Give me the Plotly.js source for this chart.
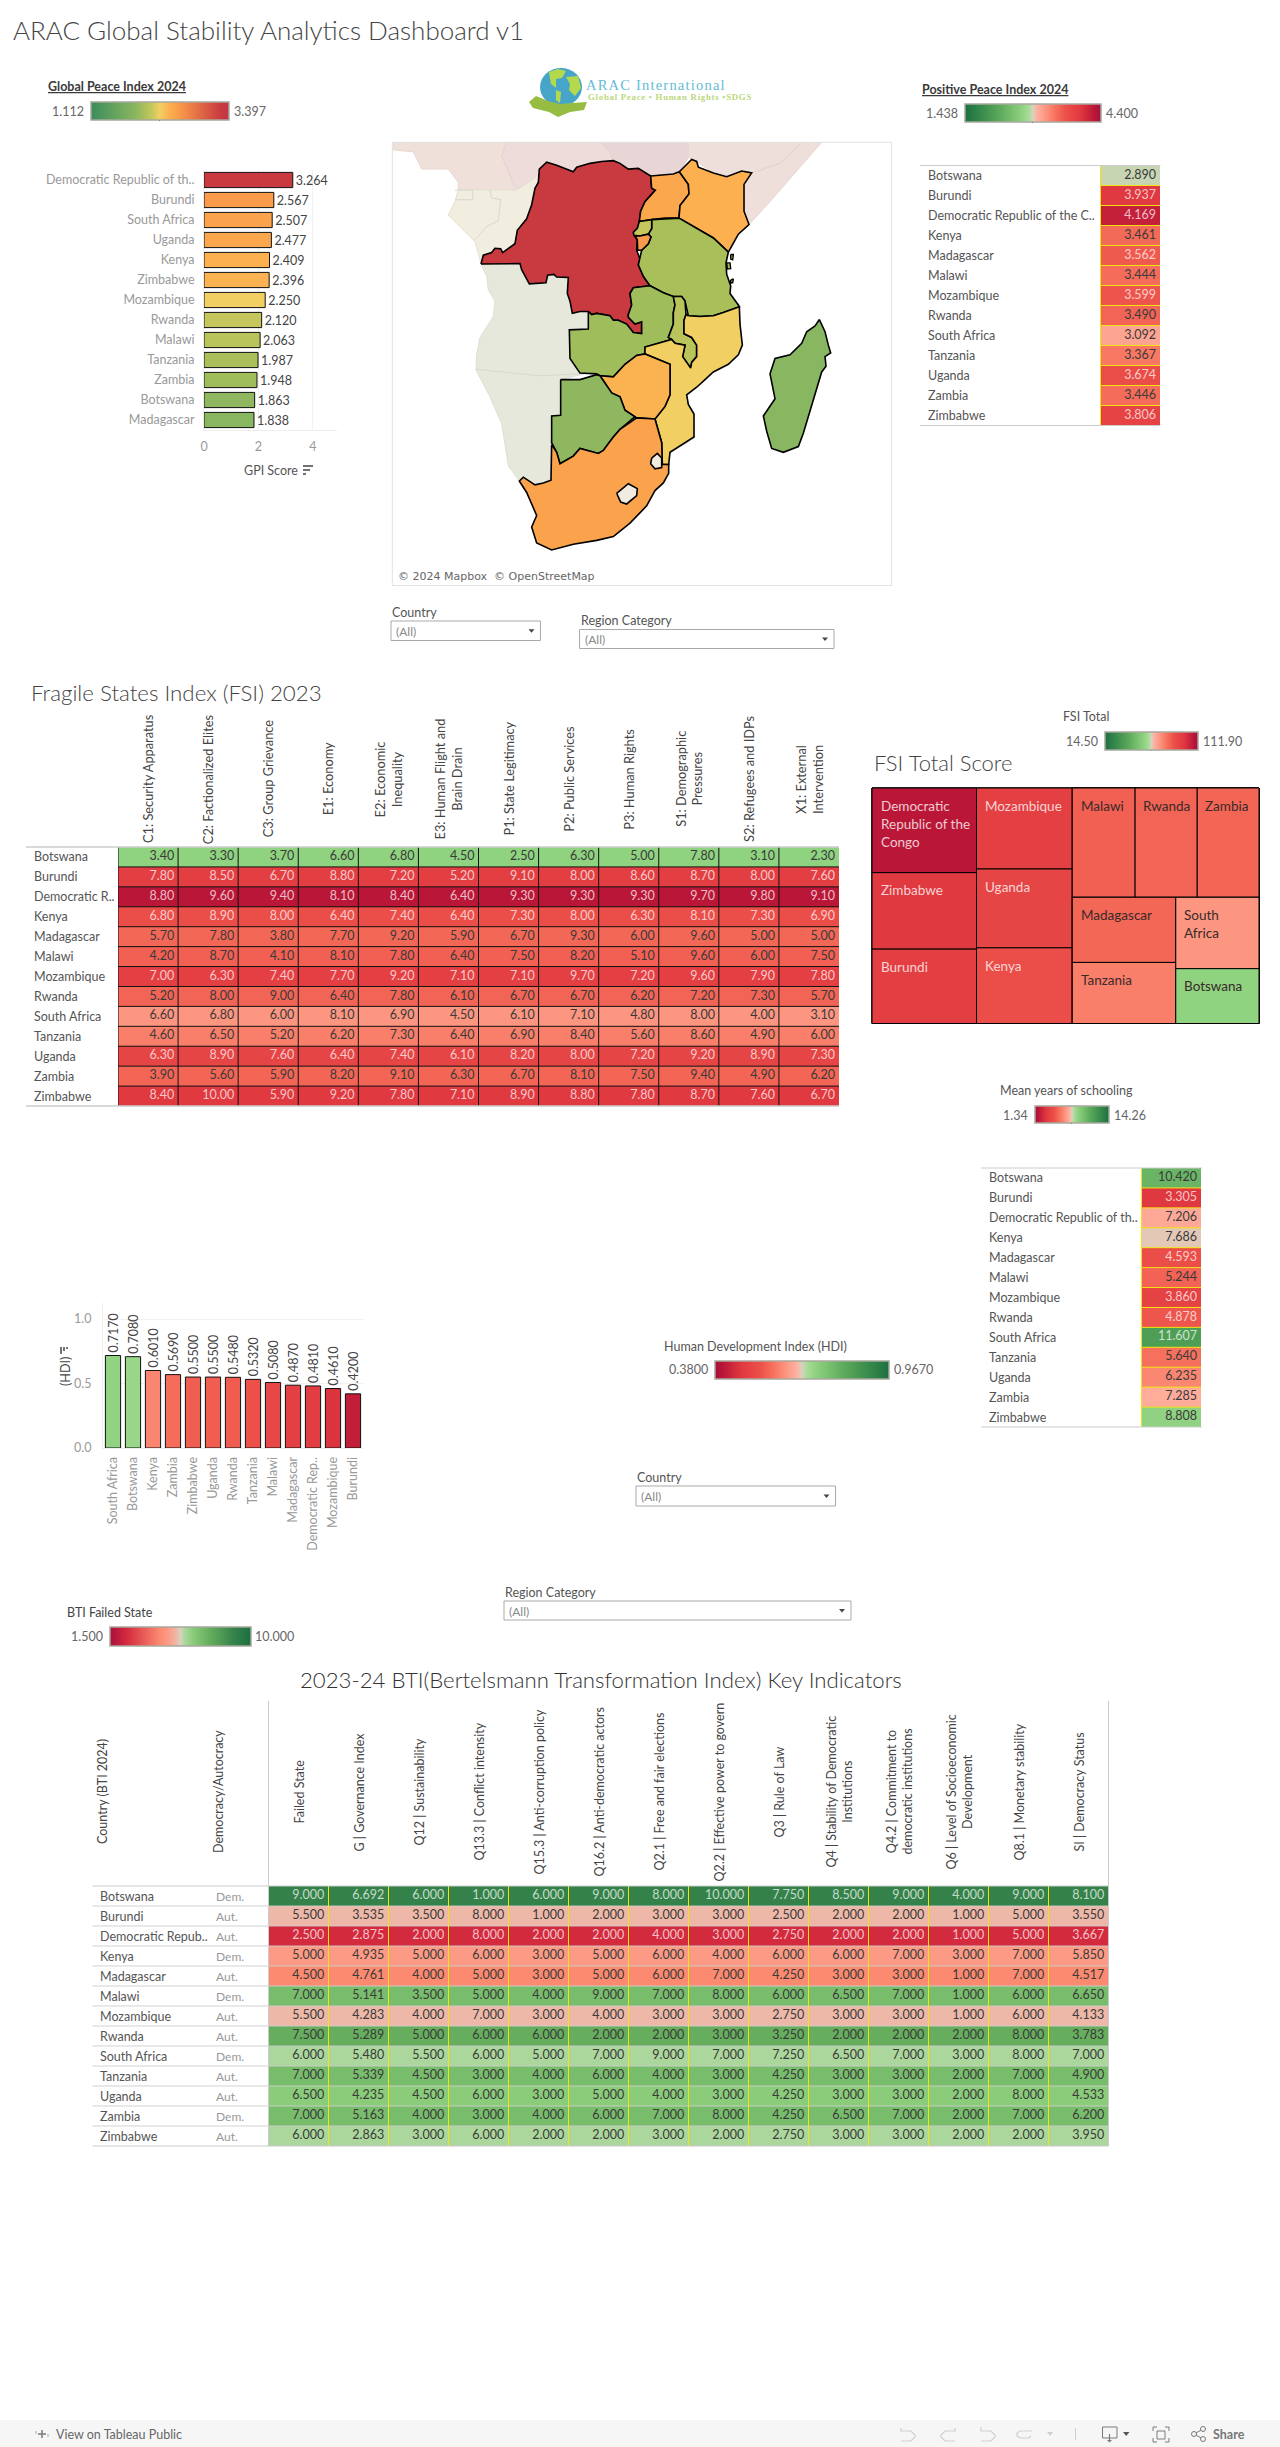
<!DOCTYPE html>
<html><head><meta charset="utf-8">
<script src="https://cdn.plot.ly/plotly-3.0.1.min.js"></script>
<style>html,body{margin:0;padding:0;background:#fff}#chart{width:1280px;height:2447px}</style>
</head><body><div id="chart"></div>
<script>
const W=1280,H=2447;
const FONT='Lato, "Noto Sans", sans-serif';
const LIGHT='"Lato Light", Lato, "Noto Sans", sans-serif';

// ---- data ----
const countries=['Botswana','Burundi','Democratic Republic of the Congo','Kenya','Madagascar','Malawi','Mozambique','Rwanda','South Africa','Tanzania','Uganda','Zambia','Zimbabwe'];
const gpiCountries=['Democratic Republic of th..','Burundi','South Africa','Uganda','Kenya','Zimbabwe','Mozambique','Rwanda','Malawi','Tanzania','Zambia','Botswana','Madagascar'];
const gpiValues=[3.264,2.567,2.507,2.477,2.409,2.396,2.250,2.120,2.063,1.987,1.948,1.863,1.838];
const ppiLabels=['Botswana','Burundi','Democratic Republic of the C..','Kenya','Madagascar','Malawi','Mozambique','Rwanda','South Africa','Tanzania','Uganda','Zambia','Zimbabwe'];
const ppiValues=[2.890,3.937,4.169,3.461,3.562,3.444,3.599,3.490,3.092,3.367,3.674,3.446,3.806];
const fsiLabels=['Botswana','Burundi','Democratic R..','Kenya','Madagascar','Malawi','Mozambique','Rwanda','South Africa','Tanzania','Uganda','Zambia','Zimbabwe'];
const fsiHeaders=['C1: Security Apparatus','C2: Factionalized Elites','C3: Group Grievance','E1: Economy','E2: Economic<br>Inequality','E3: Human Flight and<br>Brain Drain','P1: State Legitimacy','P2: Public Services','P3: Human Rights','S1: Demographic<br>Pressures','S2: Refugees and IDPs','X1: External<br>Intervention'];
const fsiRows=[
[3.40,3.30,3.70,6.60,6.80,4.50,2.50,6.30,5.00,7.80,3.10,2.30],
[7.80,8.50,6.70,8.80,7.20,5.20,9.10,8.00,8.60,8.70,8.00,7.60],
[8.80,9.60,9.40,8.10,8.40,6.40,9.30,9.30,9.30,9.70,9.80,9.10],
[6.80,8.90,8.00,6.40,7.40,6.40,7.30,8.00,6.30,8.10,7.30,6.90],
[5.70,7.80,3.80,7.70,9.20,5.90,6.70,9.30,6.00,9.60,5.00,5.00],
[4.20,8.70,4.10,8.10,7.80,6.40,7.50,8.20,5.10,9.60,6.00,7.50],
[7.00,6.30,7.40,7.70,9.20,7.10,7.10,9.70,7.20,9.60,7.90,7.80],
[5.20,8.00,9.00,6.40,7.80,6.10,6.70,6.70,6.20,7.20,7.30,5.70],
[6.60,6.80,6.00,8.10,6.90,4.50,6.10,7.10,4.80,8.00,4.00,3.10],
[4.60,6.50,5.20,6.20,7.30,6.40,6.90,8.40,5.60,8.60,4.90,6.00],
[6.30,8.90,7.60,6.40,7.40,6.10,8.20,8.00,7.20,9.20,8.90,7.30],
[3.90,5.60,5.90,8.20,9.10,6.30,6.70,8.10,7.50,9.40,4.90,6.20],
[8.40,10.00,5.90,9.20,7.80,7.10,8.90,8.80,7.80,8.70,7.60,6.70]];
const fsiLight=[0,1,1,1,0,0,1,0,0,0,1,0,1];
const ppiLight=[0,1,1,0,1,0,1,0,0,0,1,0,1];
const schoolLabels=['Botswana','Burundi','Democratic Republic of th..','Kenya','Madagascar','Malawi','Mozambique','Rwanda','South Africa','Tanzania','Uganda','Zambia','Zimbabwe'];
const schoolValues=[10.420,3.305,7.206,7.686,4.593,5.244,3.860,4.878,11.607,5.640,6.235,7.285,8.808];
const schoolLight=[0,1,0,0,1,0,1,1,1,0,0,0,0];
const hdiCountries=['South Africa','Botswana','Kenya','Zambia','Zimbabwe','Uganda','Rwanda','Tanzania','Malawi','Madagascar','Democratic Rep..','Mozambique','Burundi'];
const hdiValues=[0.7170,0.7080,0.6010,0.5690,0.5500,0.5500,0.5480,0.5320,0.5080,0.4870,0.4810,0.4610,0.4200];
const btiLabels=['Botswana','Burundi','Democratic Repub..','Kenya','Madagascar','Malawi','Mozambique','Rwanda','South Africa','Tanzania','Uganda','Zambia','Zimbabwe'];
const btiRegime=['Dem.','Aut.','Aut.','Dem.','Aut.','Dem.','Aut.','Aut.','Dem.','Aut.','Aut.','Dem.','Aut.'];
const btiHeaders=['Failed State','G | Governance Index','Q12 | Sustainability','Q13.3 | Conflict intensity','Q15.3 | Anti-corruption policy','Q16.2 | Anti-democratic actors','Q2.1 | Free and fair elections','Q2.2 | Effective power to govern','Q3 | Rule of Law','Q4 | Stability of Democratic<br>Institutions','Q4.2 | Commitment to<br>democratic institutions','Q6 | Level of Socioeconomic<br>Development','Q8.1 | Monetary stability','SI | Democracy Status'];
const btiRows=[
[9,6.692,6,1,6,9,8,10,7.75,8.5,9,4,9,8.1],
[5.5,3.535,3.5,8,1,2,3,3,2.5,2,2,1,5,3.55],
[2.5,2.875,2,8,2,2,4,3,2.75,2,2,1,5,3.667],
[5,4.935,5,6,3,5,6,4,6,6,7,3,7,5.85],
[4.5,4.761,4,5,3,5,6,7,4.25,3,3,1,7,4.517],
[7,5.141,3.5,5,4,9,7,8,6,6.5,7,1,6,6.65],
[5.5,4.283,4,7,3,4,3,3,2.75,3,3,1,6,4.133],
[7.5,5.289,5,6,6,2,2,3,3.25,2,2,2,8,3.783],
[6,5.48,5.5,6,5,7,9,7,7.25,6.5,7,3,8,7],
[7,5.339,4.5,3,4,6,4,3,4.25,3,3,2,7,4.9],
[6.5,4.235,4.5,6,3,5,4,3,4.25,3,3,2,8,4.533],
[7,5.163,4,3,4,6,7,8,4.25,6.5,7,2,7,6.2],
[6,2.863,3,6,2,2,3,2,2.75,3,3,2,2,3.95]];
const btiLight=[1,0,1,0,0,0,0,0,0,0,0,0,0];

// map outlines, in the projected plane of the reference map
const mapDRC=[[303,533],[310,510],[335,503],[345,492],[362,493],[368,503],[405,480],[412,445],[440,415],[455,378],[465,335],[475,320],[478,285],[500,267],[530,275],[580,292],[590,280],[630,270],[665,265],[700,263],[720,270],[745,285],[775,283],[812,303],[815,335],[826,340],[795,370],[782,395],[778,422],[772,440],[760,450],[762,458],[772,470],[770,497],[780,520],[775,535],[790,565],[810,590],[760,595],[750,610],[755,640],[745,665],[745,672],[765,690],[785,684],[785,715],[760,712],[740,690],[715,680],[700,680],[690,668],[650,662],[635,665],[625,657],[600,657],[577,662],[570,630],[562,610],[565,568],[530,567],[522,560],[503,562],[498,582],[448,585],[425,548],[420,532]];
const mapUganda=[[812,303],[880,298],[898,292],[925,325],[927,350],[900,380],[897,413],[855,413],[815,417],[778,422],[782,395],[795,370],[826,340],[815,335]];
const mapKenya=[[898,292],[935,260],[950,265],[955,280],[1000,295],[1040,305],[1085,290],[1115,295],[1092,325],[1092,395],[1107,430],[1075,455],[1045,502],[1000,465],[897,413],[900,380],[927,350],[925,325]];
const mapTanzania=[[815,417],[897,413],[1000,465],[1045,502],[1038,530],[1040,560],[1052,590],[1050,610],[1075,640],[1078,645],[1030,660],[1000,668],[960,670],[925,668],[915,630],[905,618],[880,618],[850,608],[810,590],[790,565],[775,535],[780,515],[785,497],[805,480],[813,462],[805,455],[815,440]];
const mapRwanda=[[760,450],[772,440],[778,422],[815,417],[815,440],[805,455],[780,460],[762,458]];
const mapBurundi=[[766,460],[780,460],[805,455],[813,462],[805,480],[785,497],[773,497],[772,470]];
const mapZambia=[[810,590],[850,608],[880,618],[885,640],[880,660],[880,690],[865,725],[875,730],[795,750],[795,768],[770,772],[735,795],[700,828],[660,825],[650,820],[620,818],[600,818],[570,780],[568,705],[625,703],[625,657],[635,665],[650,662],[690,668],[700,680],[715,680],[740,690],[760,712],[785,715],[785,684],[765,690],[745,672],[745,665],[755,640],[750,610],[760,595]];
const mapMalawi=[[880,618],[905,618],[915,630],[918,665],[912,680],[912,715],[935,725],[950,745],[950,775],[935,790],[932,805],[908,775],[915,745],[885,740],[875,730],[865,725],[880,690],[880,660],[885,640]];
const mapMozambique=[[925,668],[960,670],[1000,668],[1030,660],[1078,645],[1080,690],[1087,745],[1075,770],[1045,795],[1000,815],[975,835],[950,855],[920,875],[925,900],[942,925],[942,985],[915,1000],[870,1025],[866,1057],[847,1057],[845,1000],[825,938],[855,905],[870,875],[870,795],[795,768],[795,750],[875,730],[885,740],[915,745],[908,775],[932,805],[935,790],[950,775],[950,745],[935,725],[912,715],[912,680],[918,665]];
const mapZimbabwe=[[660,825],[700,828],[735,795],[770,772],[795,768],[870,795],[870,875],[855,905],[825,938],[770,935],[735,915],[720,880],[695,870]];
const mapBotswana=[[542,835],[600,835],[650,822],[660,825],[695,870],[720,880],[735,915],[765,932],[720,965],[700,985],[670,1020],[655,1028],[600,1015],[580,1035],[540,1055],[530,1025],[515,1000],[515,930],[542,928]];
const mapSouthAfrica=[[515,1005],[530,1025],[540,1055],[580,1035],[600,1015],[655,1028],[670,1020],[700,985],[720,965],[770,935],[825,938],[845,1000],[847,1057],[866,1057],[866,1080],[850,1105],[825,1125],[800,1165],[750,1210],[700,1245],[650,1255],[580,1265],[515,1280],[470,1262],[455,1220],[470,1190],[440,1130],[418,1100],[430,1090],[465,1110],[490,1105],[513,1098]];
const mapMadagascar=[[1318,678],[1335,710],[1345,745],[1352,765],[1335,775],[1338,800],[1325,815],[1300,885],[1270,975],[1255,1010],[1210,1025],[1175,1015],[1160,970],[1150,930],[1185,885],[1170,820],[1185,780],[1230,770],[1265,740],[1280,710],[1305,695]];
const mapLesotho=[[710,1132],[745,1107],[772,1120],[770,1138],[740,1160],[722,1155]];
const mapEswatini=[[815,1040],[832,1028],[845,1040],[845,1065],[825,1068],[812,1055]];
const mapPemba=[[1052,508],[1060,508],[1058,522],[1052,520]];
const mapZanzibar=[[1040,530],[1050,530],[1052,545],[1042,546]];
const mapMafia=[[1052,575],[1060,572],[1058,582],[1052,583]];
const mapAngolaNamibia=[[303,533],[420,532],[425,548],[448,585],[498,582],[503,562],[522,560],[530,567],[565,568],[562,610],[570,630],[577,662],[600,657],[625,657],[625,703],[568,705],[570,780],[600,818],[620,818],[542,835],[542,928],[515,930],[513,1098],[490,1105],[465,1110],[430,1090],[418,1100],[385,1060],[365,950],[330,880],[288,810],[290,770],[300,725],[340,670],[345,630],[325,600],[320,565]];
const mapNorthWest=[[40,215],[40,235],[100,240],[125,285],[205,285],[235,320],[235,338],[275,338],[330,340],[405,340],[385,290],[365,250],[380,215]];
const mapCAR=[[380,215],[365,250],[385,290],[410,340],[470,305],[478,285],[500,267],[530,275],[580,292],[590,280],[665,265],[700,263],[690,240],[665,215]];
const mapSouthSudan=[[665,215],[690,240],[700,263],[720,270],[745,285],[775,283],[812,303],[880,298],[898,292],[925,255],[925,215]];
const mapHorn=[[925,215],[925,255],[935,260],[950,265],[1000,295],[1040,305],[1085,290],[1115,295],[1092,325],[1092,395],[1107,430],[1170,370],[1250,290],[1325,215]];
const mapGabonCongo=[[235,338],[330,340],[405,340],[410,340],[470,305],[478,285],[475,320],[465,335],[455,378],[440,415],[412,445],[405,480],[368,503],[362,493],[345,492],[335,503],[310,510],[303,530],[285,475],[205,405],[225,370]];
const mapPaleLine1=[[288,808],[480,825],[600,820]];
const mapPaleLine2=[[1115,295],[1200,270],[1262,218]];
const mapPaleLine3=[[330,340],[335,360],[362,365],[355,420],[320,435],[285,470]];
const mapPaleLine4=[[225,340],[278,340],[278,365],[225,365]];

// colour ramps
const gpiScale=[[0,'#3a8c5c'],[.318,'#89b660'],[.383,'#a8bf5a'],[.441,'#c5c75c'],[.498,'#f2cf63'],[.568,'#fcb050'],[.637,'#f99b4a'],[.942,'#c93a40'],[1,'#c03445']];
const divScale=[[0,'#1a7040'],[.25,'#5aa85a'],[.42,'#8fd280'],[.47,'#a8dc98'],[.5,'#d8d2c0'],[.53,'#ffb0a0'],[.583,'#fd9a85'],[.66,'#f7745f'],[.74,'#ec5049'],[.85,'#e03840'],[.947,'#bc1838'],[1,'#a50f3c']];
const divScaleRev=divScale.map(s=>[+(1-s[0]).toFixed(3),s[1]]).reverse();
const btiScale=[[0,'#a80f3c'],[.118,'#d42a3e'],[.353,'#fc8a70'],[.412,'#fd9a85'],[.471,'#eeb8a8'],[.5,'#d8d2c0'],[.529,'#acd79c'],[.588,'#8acc7a'],[.647,'#78bd6c'],[.706,'#66ae5e'],[.882,'#34824a'],[1,'#1a7040']];

// ---- helpers ----
const px=x=>x/W, py=y=>1-y/H;
const dx=(a,b)=>[a/W,b/W], dy=(a,b)=>[1-b/H,1-a/H];
const idx=a=>a.map((_,i)=>i);
const annotations=[], shapes=[];
function ann(text,x,y,o={}){const f=Object.assign({family:FONT,size:12.5,color:'#555'},o.font||{});
  annotations.push(Object.assign({text,x:px(x),y:py(y),xref:'paper',yref:'paper',showarrow:false,xanchor:'left',yanchor:'middle',borderpad:0},o,{font:f}));}
function rect(x0,y0,x1,y1,fill,line,lw,layer){shapes.push({type:'rect',xref:'paper',yref:'paper',x0:px(x0),x1:px(x1),y0:py(y0),y1:py(y1),fillcolor:fill||'rgba(0,0,0,0)',line:{color:line||'rgba(0,0,0,0)',width:lw===undefined?1:lw},layer:layer||'above'});}
function seg(x0,y0,x1,y1,c,w){shapes.push({type:'line',xref:'paper',yref:'paper',x0:px(x0),x1:px(x1),y0:py(y0),y1:py(y1),line:{color:c,width:w||1},layer:'above'});}
function poly(pts,fill,line,lw,close){shapes.push({type:'path',xref:'paper',yref:'paper',path:'M'+pts.map(p=>px(p[0])+' '+py(p[1])).join(' L')+(close===false?'':' Z'),fillcolor:fill||'rgba(0,0,0,0)',line:{color:line||'rgba(0,0,0,0)',width:lw===undefined?1:lw},layer:'above'});}
function ell(cx,cy,rx,ry,fill,line,lw){shapes.push({type:'circle',xref:'paper',yref:'paper',x0:px(cx-rx),x1:px(cx+rx),y0:py(cy-ry),y1:py(cy+ry),fillcolor:fill||'rgba(0,0,0,0)',line:{color:line||'rgba(0,0,0,0)',width:lw===undefined?1:lw},layer:'above'});}
function cbar(x0,x1,y0,y1){return {orientation:'h',lenmode:'pixels',len:x1-x0,thicknessmode:'pixels',thickness:y1-y0,x:px(x0),xanchor:'left',y:py(y0),yanchor:'top',xpad:0,ypad:0,outlinecolor:'#a8a89e',outlinewidth:1.5,borderwidth:0,ticks:'',showticklabels:false};}
function legend(x0,x1,y0,y1,minTxt,maxTxt){
  ann(minTxt,x0-6,(y0+y1)/2+.5,{xanchor:'right',font:{size:12.5,color:'#666'}});
  ann(maxTxt,x1+4,(y0+y1)/2+.5,{font:{size:12.5,color:'#666'}});
  seg((x0+x1)/2,y1-2,(x0+x1)/2,y1+1,'#111',1);
}
function filter(label,x0,x1,y0,y1,ly){
  ann(label,x0,ly,{font:{size:12.5,color:'#555'}});
  rect(x0,y0,x1,y1,'#fff','#aaa',1);
  ann('(All)',x0+4,(y0+y1)/2+.5,{font:{size:12,color:'#888'}});
  const a=x1-9; poly([[a-3,(y0+y1)/2-1.5],[a+3,(y0+y1)/2-1.5],[a,(y0+y1)/2+2]],'#444');
}
const hidden={visible:false,showgrid:false,zeroline:false,fixedrange:true};
const traces=[];
function valueText(xRef,yRef,xs,ys,txt,cols){
  traces.push({type:'scatter',mode:'text',xaxis:xRef,yaxis:yRef,x:xs,y:ys,text:txt,textposition:'middle left',textfont:{family:FONT,size:12.5,color:cols},hoverinfo:'skip',showlegend:false,cliponaxis:false});
}
const LIGHTTXT='rgba(255,255,255,.72)', DARKTXT='#3a3a3a';
const tracked=s=>s.split('').join('\u200a');

// ---- title ----
ann('ARAC Global Stability Analytics Dashboard v1',12,30,{font:{family:LIGHT,size:26,color:'#444',weight:300}});

// ---- GPI bars ----
traces.push({type:'bar',orientation:'h',xaxis:'x',yaxis:'y',y:idx(gpiValues),x:gpiValues,width:.76,
  marker:{color:gpiValues,coloraxis:'coloraxis',line:{color:'#111',width:1}},
  text:gpiValues.map(v=>v.toFixed(3)),textposition:'outside',constraintext:'none',cliponaxis:false,textfont:{family:FONT,size:12.5,color:'#444'},hoverinfo:'skip',showlegend:false});
ann('<b><u>Global Peace Index 2024</u></b>',47,87,{font:{size:12.5,color:'#3a3a3a'}});
legend(90.5,228.5,102.5,120,'1.112','3.397');
ann('GPI Score',243,470.5,{font:{size:12.5,color:'#555'}});
seg(303,466,313,466,'#444',1.5);seg(303,470,310,470,'#444',1.5);seg(303,474,306,474,'#444',1.5);

// ---- map ----
function mapTrace(pts,fill,line,lw){
  const c=pts.concat([pts[0]]);
  traces.push({type:'scatter',mode:'lines',xaxis:'x2',yaxis:'y2',x:c.map(p=>p[0]),y:c.map(p=>p[1]),fill:'toself',fillcolor:fill,line:{color:line,width:lw},hoverinfo:'skip',showlegend:false});
}
function mapLine(pts,c){traces.push({type:'scatter',mode:'lines',xaxis:'x2',yaxis:'y2',x:pts.map(p=>p[0]),y:pts.map(p=>p[1]),line:{color:c,width:1},hoverinfo:'skip',showlegend:false});}
function hex(c){return [1,3,5].map(i=>parseInt(c.substr(i,2),16));}
function colorAt(sc,v,lo,hi){const t=(v-lo)/(hi-lo);for(let i=1;i<sc.length;i++){if(t<=sc[i][0]){const a=sc[i-1],b=sc[i],f=(t-a[0])/(b[0]-a[0]),A=hex(a[1]),B=hex(b[1]);return 'rgb('+A.map((q,k)=>Math.round(q+(B[k]-q)*f)).join(',')+')';}}return sc[sc.length-1][1];}
const gpiOf=n=>colorAt(gpiScale,gpiValues[gpiCountries.indexOf(n)],1.112,3.397);
mapTrace(mapNorthWest,'#efe0da','#e6d8d2',1);
mapTrace(mapCAR,'#eedcda','#e4d2d0',1);
mapTrace(mapSouthSudan,'#e8d6d6','#e0cece',1);
mapTrace(mapHorn,'#efdfda','#e6d6d2',1);
mapTrace(mapGabonCongo,'#f1eddf','#e4e0d0',1);
mapTrace(mapAngolaNamibia,'#e6e8dc','#dcdfd2',1);
[mapPaleLine1,mapPaleLine3,mapPaleLine4].forEach(p=>mapLine(p,'#d8d8cc'));
mapLine(mapPaleLine2,'#ded0cc');
const MAPW=1.6;
mapTrace(mapDRC,gpiOf('Democratic Republic of th..'),'#000',MAPW);
mapTrace(mapUganda,gpiOf('Uganda'),'#000',MAPW);
mapTrace(mapKenya,gpiOf('Kenya'),'#000',MAPW);
mapTrace(mapTanzania,gpiOf('Tanzania'),'#000',MAPW);
mapTrace(mapRwanda,gpiOf('Rwanda'),'#000',MAPW);
mapTrace(mapBurundi,gpiOf('Burundi'),'#000',MAPW);
mapTrace(mapZambia,gpiOf('Zambia'),'#000',MAPW);
mapTrace(mapMalawi,gpiOf('Malawi'),'#000',MAPW);
mapTrace(mapMozambique,gpiOf('Mozambique'),'#000',MAPW);
mapTrace(mapZimbabwe,gpiOf('Zimbabwe'),'#000',MAPW);
mapTrace(mapBotswana,gpiOf('Botswana'),'#000',MAPW);
mapTrace(mapSouthAfrica,gpiOf('South Africa'),'#000',MAPW);
mapTrace(mapMadagascar,gpiOf('Madagascar'),'#000',MAPW);
mapTrace(mapLesotho,'#f2ebe2','#000',MAPW);
mapTrace(mapEswatini,'#f2ebe2','#000',MAPW);
[mapPemba,mapZanzibar,mapMafia].forEach(p=>mapTrace(p,gpiOf('Tanzania'),'#000',1.4));
rect(392.3,142.3,891.7,585.5,null,'#e2e2e2',1);
rect(394,568,584,584,'rgba(255,255,255,.6)',null,0);
ann('© 2024 Mapbox  © OpenStreetMap',397,577,{font:{size:11,color:'#666',family:'"DejaVu Sans",sans-serif'}});
filter('Country',391,540.5,621,640.5,612);
filter('Region Category',579.5,834,629.5,648.5,620);

// ---- logo ----
ell(561,87,21,19,'#46a5c8');
poly([[549,72],[558,69],[566,71],[562,78],[556,79],[556,88],[551,84]],'#b4d94c');
poly([[566,77],[578,76],[581,88],[575,96],[569,90],[570,84]],'#b4d94c');
poly([[556,90],[561,92],[560,103],[556,100]],'#b4d94c');
poly([[529,102],[536,96],[548,101],[560,104],[572,103],[587,102],[584,110],[570,112],[558,117],[549,112],[533,108]],'#96bd42');
ann(tracked('ARAC International'),585,85,{font:{family:'"Liberation Serif",serif',size:14.5,color:'#63bcd6'}});
ann('<b>'+tracked('Global Peace • Human Rights •SDGS')+'</b>',587,96.5,{font:{family:'"Liberation Serif",serif',size:8.8,color:'#bcd87e'}});

// ---- PPI table ----
traces.push({type:'heatmap',xaxis:'x3',yaxis:'y3',x:[0],y:idx(ppiValues),z:ppiValues.map(v=>[v]),coloraxis:'coloraxis2',hoverinfo:'skip',showscale:false});
valueText('x3','y3',ppiValues.map(()=>.5-.065),idx(ppiValues),ppiValues.map(v=>v.toFixed(3)),ppiLight.map(l=>l?LIGHTTXT:DARKTXT));
ann('<b><u>Positive Peace Index 2024</u></b>',921,89.5,{font:{size:12.5,color:'#3a3a3a'}});
legend(964.5,1100.5,104.5,122,'1.438','4.400');
ppiLabels.forEach((t,i)=>annotations.push({text:t,xref:'paper',x:px(926),yref:'y3',y:i,xanchor:'left',yanchor:'middle',showarrow:false,font:{family:FONT,size:12.5,color:'#555'}}));
for(let i=1;i<13;i++)shapes.push({type:'line',xref:'paper',x0:px(1100),x1:px(1160),yref:'y3',y0:i-.5,y1:i-.5,line:{color:'#f0e510',width:1},layer:'above'});
seg(1100.5,165.5,1100.5,425.5,'#f0e510',1);
seg(920,165.5,1160.5,165.5,'#ccc',1);seg(920,425.5,1160.5,425.5,'#ccc',1);

// ---- FSI heatmap ----
const fsiTotals=fsiRows.map(r=>r.reduce((a,b)=>a+b,0));
traces.push({type:'heatmap',xaxis:'x4',yaxis:'y4',x:idx(fsiHeaders),y:idx(fsiLabels),z:fsiRows.map((r,i)=>r.map(()=>fsiTotals[i])),coloraxis:'coloraxis3',hoverinfo:'skip',showscale:false});
{const xs=[],ys=[],tx=[],cs=[];fsiRows.forEach((r,i)=>r.forEach((v,j)=>{xs.push(j+.5-.065);ys.push(i);tx.push(v.toFixed(2));cs.push(fsiLight[i]?LIGHTTXT:DARKTXT);}));valueText('x4','y4',xs,ys,tx,cs);}
ann('Fragile States Index (FSI) 2023',30,693,{font:{family:LIGHT,size:22.3,color:'#444',weight:300}});
fsiLabels.forEach((t,i)=>annotations.push({text:t,xref:'paper',x:px(32),yref:'y4',y:i,xanchor:'left',yanchor:'middle',showarrow:false,font:{family:FONT,size:12.5,color:'#555'}}));
fsiHeaders.forEach((t,j)=>annotations.push({text:t,xref:'x4',x:j,yref:'paper',y:py(779),xanchor:'center',yanchor:'middle',textangle:-90,showarrow:false,font:{family:FONT,size:12.8,color:'#444'}}));
for(let i=1;i<13;i++)shapes.push({type:'line',xref:'paper',x0:px(118),x1:px(839),yref:'y4',y0:i-.5,y1:i-.5,line:{color:'#111',width:1},layer:'above'});
for(let j=0;j<12;j++)shapes.push({type:'line',xref:'x4',x0:j-.5,x1:j-.5,yref:'paper',y0:py(847),y1:py(1106),line:{color:'#111',width:1},layer:'above'});
seg(26,847,839,847,'#ccc',1.5);seg(26,1106,839,1106,'#ccc',1.5);

// ---- treemap ----
const treeOf=n=>fsiTotals[countries.indexOf(n)];
const treeIds=['root','A','B','C','C1','C2','C2a','C2b','Democratic Republic of the Congo','Zimbabwe','Burundi','Mozambique','Uganda','Kenya','Malawi','Rwanda','Zambia','Madagascar','Tanzania','South Africa','Botswana'];
const treeParents=['','root','root','root','C','C','C2','C2','A','A','A','B','B','B','C1','C1','C1','C2a','C2a','C2b','C2b'];
const treeCountry=treeIds.slice(8);
traces.push({type:'treemap',ids:treeIds,labels:treeIds,parents:treeParents,
  values:[0,0,0,0,0,0,0,0].concat(treeCountry.map(treeOf)),branchvalues:'remainder',sort:false,
  domain:{x:dx(872,1259),y:dy(788,1023.5)},textinfo:'none',
  tiling:{packing:'slice-dice',pad:0},pathbar:{visible:false},
  marker:{colors:Array(8).fill(63.2).concat(treeCountry.map(treeOf)),coloraxis:'coloraxis3',pad:{t:0,l:0,r:0,b:0},line:{color:'#000',width:1}},
  hoverinfo:'skip',showlegend:false});
const TL='rgba(255,255,255,.78)',TD='#3a2a2a';
[['Democratic',880,805.7,TL],['Republic of the',880,823.7,TL],['Congo',880,842,TL],['Zimbabwe',880,889.7,TL],['Burundi',880,966.7,TL],
 ['Mozambique',984.3,805.7,TL],['Uganda',984.3,887,TL],['Kenya',984.3,966,TL],
 ['Malawi',1080,805.7,TD],['Rwanda',1142,805.7,TD],['Zambia',1204,805.7,TD],
 ['Madagascar',1080,915,TD],['Tanzania',1080,980,TD],['South',1183,915,TD],['Africa',1183,933,TD],['Botswana',1183,986,TD]]
 .forEach(a=>ann(a[0],a[1],a[2],{font:{size:13.5,color:a[3]}}));
ann('FSI Total',1062,717,{font:{size:12.5,color:'#555'}});
legend(1105,1197.5,731.5,749.5,'14.50','111.90');
ann('FSI Total Score',873,762,{font:{family:LIGHT,size:22,color:'#444',weight:300}});

// ---- schooling table ----
traces.push({type:'heatmap',xaxis:'x5',yaxis:'y5',x:[0],y:idx(schoolValues),z:schoolValues.map(v=>[v]),coloraxis:'coloraxis4',hoverinfo:'skip',showscale:false});
valueText('x5','y5',schoolValues.map(()=>.5-.065),idx(schoolValues),schoolValues.map(v=>v.toFixed(3)),schoolLight.map(l=>l?LIGHTTXT:DARKTXT));
ann('Mean years of schooling',999,1091,{font:{size:12.5,color:'#555'}});
legend(1034.5,1108.5,1106,1123,'1.34','14.26');
schoolLabels.forEach((t,i)=>annotations.push({text:t,xref:'paper',x:px(987),yref:'y5',y:i,xanchor:'left',yanchor:'middle',showarrow:false,font:{family:FONT,size:12.5,color:'#555'}}));
for(let i=1;i<13;i++)shapes.push({type:'line',xref:'paper',x0:px(1141),x1:px(1201),yref:'y5',y0:i-.5,y1:i-.5,line:{color:'#f0e510',width:1},layer:'above'});
seg(1141.5,1168,1141.5,1427,'#f0e510',1);
seg(981,1168,1202,1168,'#ccc',1);seg(981,1427,1202,1427,'#ccc',1);

// ---- HDI bars ----
traces.push({type:'bar',xaxis:'x6',yaxis:'y6',x:idx(hdiValues),y:hdiValues,width:.76,
  marker:{color:hdiValues,coloraxis:'coloraxis5',line:{color:'#111',width:1}},
  text:hdiValues.map(v=>v.toFixed(4)),textposition:'outside',textangle:-90,constraintext:'none',cliponaxis:false,textfont:{family:FONT,size:12.5,color:'#444'},hoverinfo:'skip',showlegend:false});
ann('(HDI)',66,1372,{xanchor:'center',textangle:-90,font:{size:12.5,color:'#444'}});
seg(61,1347,61,1354,'#444',1.5);seg(64,1347,64,1351,'#444',1.5);seg(67,1347,67,1349,'#444',1.5);
ann('Human Development Index (HDI)',663,1346,{font:{size:12.5,color:'#555'}});
legend(714.5,888.5,1360.5,1378,'0.3800','0.9670');
filter('Country',636,835.5,1486,1506,1477);
filter('Region Category',504,851,1601,1620,1592);

// ---- BTI table ----
traces.push({type:'heatmap',xaxis:'x7',yaxis:'y7',x:idx(btiHeaders),y:idx(btiLabels),z:btiRows.map(r=>r.map(()=>r[0])),coloraxis:'coloraxis6',hoverinfo:'skip',showscale:false});
{const xs=[],ys=[],tx=[],cs=[];btiRows.forEach((r,i)=>r.forEach((v,j)=>{xs.push(j+.5-.07);ys.push(i);tx.push(v.toFixed(3));cs.push(btiLight[i]?LIGHTTXT:DARKTXT);}));valueText('x7','y7',xs,ys,tx,cs);}
ann('BTI Failed State',66,1612,{font:{size:12.5,color:'#444'}});
legend(109.5,250,1626.5,1645,'1.500','10.000');
ann('2023-24 BTI(Bertelsmann Transformation Index) Key Indicators',601,1679,{xanchor:'center',font:{family:LIGHT,size:22.2,color:'#333',weight:300}});
ann('Country (BTI 2024)',102,1792,{xanchor:'center',textangle:-90,font:{size:12.5,color:'#444'}});
ann('Democracy/Autocracy',218,1792,{xanchor:'center',textangle:-90,font:{size:12.5,color:'#444'}});
btiHeaders.forEach((t,j)=>annotations.push({text:t,xref:'x7',x:j,yref:'paper',y:py(1792),xanchor:'center',yanchor:'middle',textangle:-90,showarrow:false,font:{family:FONT,size:12.5,color:'#444'}}));
btiLabels.forEach((t,i)=>{
  annotations.push({text:t,xref:'paper',x:px(98),yref:'y7',y:i,xanchor:'left',yanchor:'middle',showarrow:false,font:{family:FONT,size:12.5,color:'#555'}});
  annotations.push({text:btiRegime[i],xref:'paper',x:px(214),yref:'y7',y:i,xanchor:'left',yanchor:'middle',showarrow:false,font:{family:FONT,size:12,color:'#999'}});
});
for(let i=1;i<13;i++)shapes.push({type:'line',xref:'paper',x0:px(92.5),x1:px(1108.5),yref:'y7',y0:i-.5,y1:i-.5,line:{color:'rgba(205,205,205,.9)',width:1},layer:'above'});
for(let j=1;j<14;j++)shapes.push({type:'line',xref:'x7',x0:j-.5,x1:j-.5,yref:'paper',y0:py(1886),y1:py(2146),line:{color:'#f0e510',width:1},layer:'above'});
seg(268.5,1701,268.5,2146,'#ccc',1);seg(1108.5,1701,1108.5,2146,'#ccc',1);
seg(92.5,1886,1108.5,1886,'#ccc',1);seg(92.5,2146,1108.5,2146,'#ccc',1);

// ---- footer ----
rect(0,2420,1280,2447,'#f6f6f6',null,0);
const G='#cfcfcf', D='#7a7a7a';
seg(42,2430,42,2438,D,1.5);seg(38,2434,46,2434,D,1.5);seg(36,2431,36,2434,'#aaa',1);seg(48,2434,48,2437,'#aaa',1);
ann('View on Tableau Public',55,2434,{font:{size:12.5,color:'#666'}});
poly([[901,2428],[901,2431],[911,2431],[915,2435],[915,2437],[911,2441],[901,2441]],null,G,1.2,false);
poly([[955,2428],[955,2431],[945,2431],[941,2435],[941,2437],[945,2441],[955,2441]],null,G,1.2,false);
poly([[981,2427],[981,2431],[991,2431],[995,2435],[995,2437],[991,2441],[981,2441]],null,G,1.2,false);
poly([[1032,2431],[1020,2431],[1017,2433],[1017,2436],[1020,2438],[1029,2438],[1031,2436]],null,G,1.2,false);
poly([[1047,2432],[1053,2432],[1050,2436]],G);
seg(1075.5,2428,1075.5,2440,G,1);
rect(1102.5,2427,1117,2438,null,D,1);seg(1109.5,2434,1109.5,2441,D,1.2);poly([[1107,2440],[1112,2440],[1109.5,2442.5]],D);
poly([[1123,2432],[1129.5,2432],[1126.2,2436]],'#555');
rect(1157,2431,1165,2439,null,D,1);
[[1153,2431,1153,2427,1157,2427],[1165,2427,1169,2427,1169,2431],[1169,2438,1169,2442,1165,2442],[1157,2442,1153,2442,1153,2438]].forEach(a=>poly([[a[0],a[1]],[a[2],a[3]],[a[4],a[5]]],null,D,1,false));
ell(1194,2434,2.5,2.5,null,D,1);ell(1203,2429,2.5,2.5,null,D,1);ell(1203,2439,2.5,2.5,null,D,1);
seg(1196,2433,1201,2430,D,1);seg(1196,2435,1201,2438,D,1);
ann('<b>Share</b>',1212,2434,{font:{size:12.5,color:'#777'}});

// ---- layout ----
const tickGray={family:FONT,size:12.5,color:'#999'};
const layout={width:W,height:H,margin:{l:0,r:0,t:0,b:0,autoexpand:false},paper_bgcolor:'#fff',plot_bgcolor:'rgba(0,0,0,0)',showlegend:false,bargap:.24,font:{family:FONT},
  annotations,shapes,hovermode:false,
  xaxis:{domain:dx(204,337),range:[0,4.89],tickvals:[0,2,4],ticktext:['0','2','4'],tickfont:tickGray,ticks:'outside',ticklen:5,tickcolor:'rgba(0,0,0,0)',gridcolor:'#f1f1f1',showline:true,linecolor:'#eee',zeroline:false,anchor:'y',fixedrange:true},
  yaxis:{domain:dy(170,430),range:[12.5,-.5],tickvals:idx(gpiCountries),ticktext:gpiCountries,tickfont:tickGray,ticks:'outside',ticklen:6,tickcolor:'rgba(0,0,0,0)',showgrid:false,showline:true,linecolor:'#eee',zeroline:false,anchor:'x',fixedrange:true},
  xaxis2:Object.assign({domain:dx(392.3,891.7),range:[37,1535],anchor:'y2'},hidden),
  yaxis2:Object.assign({domain:dy(142.3,585.5),range:[1373,215],anchor:'x2'},hidden),
  xaxis3:Object.assign({domain:dx(1100.5,1160),range:[-.5,.5],anchor:'y3'},hidden),
  yaxis3:Object.assign({domain:dy(165.5,425.5),range:[12.5,-.5],anchor:'x3'},hidden),
  xaxis4:Object.assign({domain:dx(118,839),range:[-.5,11.5],anchor:'y4'},hidden),
  yaxis4:Object.assign({domain:dy(847,1106),range:[12.5,-.5],anchor:'x4'},hidden),
  xaxis5:Object.assign({domain:dx(1141.5,1201),range:[-.5,.5],anchor:'y5'},hidden),
  yaxis5:Object.assign({domain:dy(1168,1427),range:[12.5,-.5],anchor:'x5'},hidden),
  xaxis6:{domain:dx(103,363),range:[-.5,12.5],tickvals:idx(hdiCountries),ticktext:hdiCountries,tickangle:-90,tickfont:tickGray,ticks:'outside',ticklen:3,tickcolor:'rgba(0,0,0,0)',showgrid:false,showline:true,linecolor:'#eee',zeroline:false,anchor:'y6',fixedrange:true},
  yaxis6:{domain:dy(1303,1448),range:[0,1.124],tickvals:[0,.5,1],ticktext:['0.0','0.5','1.0'],tickfont:tickGray,ticks:'outside',ticklen:8,tickcolor:'rgba(0,0,0,0)',gridcolor:'#f1f1f1',showline:true,linecolor:'#eee',zeroline:false,anchor:'x6',fixedrange:true},
  xaxis7:Object.assign({domain:dx(268.5,1108.5),range:[-.5,13.5],anchor:'y7'},hidden),
  yaxis7:Object.assign({domain:dy(1886,2146),range:[12.5,-.5],anchor:'x7'},hidden),
  coloraxis:{cmin:1.112,cmax:3.397,colorscale:gpiScale,colorbar:cbar(90.5,228.5,102.5,120)},
  coloraxis2:{cmin:1.438,cmax:4.4,colorscale:divScale,colorbar:cbar(964.5,1100.5,104.5,122)},
  coloraxis3:{cmin:14.5,cmax:111.9,colorscale:divScale,colorbar:cbar(1105,1197.5,731.5,749.5)},
  coloraxis4:{cmin:1.34,cmax:14.26,colorscale:divScaleRev,colorbar:cbar(1034.5,1108.5,1106,1123)},
  coloraxis5:{cmin:.38,cmax:.967,colorscale:divScaleRev,colorbar:cbar(714.5,888.5,1360.5,1378)},
  coloraxis6:{cmin:1.5,cmax:10,colorscale:btiScale,colorbar:cbar(109.5,250,1626.5,1645)}
};
Plotly.newPlot('chart',traces,layout,{displayModeBar:false,responsive:false});
</script></body></html>
